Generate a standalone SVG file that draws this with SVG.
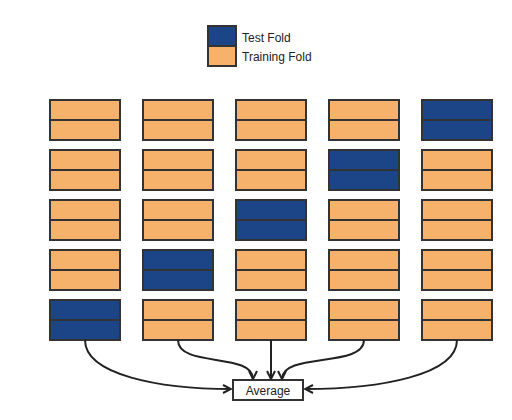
<svg xmlns="http://www.w3.org/2000/svg" width="512" height="420" viewBox="0 0 512 420">
<style>
.tr{fill:#f6b26b;stroke:#333;stroke-width:2}
.te{fill:#1c4587;stroke:#333;stroke-width:2}
.lbl{font-family:"Liberation Sans",Arial,sans-serif;font-size:12px;fill:#222}
.c{fill:none;stroke:#222;stroke-width:2}
</style>
<defs>
<marker id="ah" viewBox="0 0 10 10" refX="9" refY="5" markerWidth="10" markerHeight="10" markerUnits="userSpaceOnUse" orient="auto">
<path d="M1,1 L9,5 L1,9" fill="none" stroke="#222" stroke-width="2"/>
</marker>
<g id="trainFold"><rect class="tr" x="0" y="0" width="70" height="20"/><rect class="tr" x="0" y="20" width="70" height="20"/></g>
<g id="testFold"><rect class="te" x="0" y="0" width="70" height="20"/><rect class="te" x="0" y="20" width="70" height="20"/></g>
</defs>
<rect width="512" height="420" fill="#fff"/>
<g id="legend">
<rect class="te" x="208" y="26" width="28" height="20"/>
<rect class="tr" x="208" y="46" width="28" height="20"/>
<text class="lbl" x="242" y="42">Test Fold</text>
<text class="lbl" x="242" y="61">Training Fold</text>
</g>
<g id="row1">
<use href="#trainFold" x="50" y="100"/><use href="#trainFold" x="143" y="100"/><use href="#trainFold" x="236" y="100"/><use href="#trainFold" x="329" y="100"/><use href="#testFold" x="422" y="100"/>
</g>
<g id="row2">
<use href="#trainFold" x="50" y="150"/><use href="#trainFold" x="143" y="150"/><use href="#trainFold" x="236" y="150"/><use href="#testFold" x="329" y="150"/><use href="#trainFold" x="422" y="150"/>
</g>
<g id="row3">
<use href="#trainFold" x="50" y="200"/><use href="#trainFold" x="143" y="200"/><use href="#testFold" x="236" y="200"/><use href="#trainFold" x="329" y="200"/><use href="#trainFold" x="422" y="200"/>
</g>
<g id="row4">
<use href="#trainFold" x="50" y="250"/><use href="#testFold" x="143" y="250"/><use href="#trainFold" x="236" y="250"/><use href="#trainFold" x="329" y="250"/><use href="#trainFold" x="422" y="250"/>
</g>
<g id="row5">
<use href="#testFold" x="50" y="300"/><use href="#trainFold" x="143" y="300"/><use href="#trainFold" x="236" y="300"/><use href="#trainFold" x="329" y="300"/><use href="#trainFold" x="422" y="300"/>
</g>
<g id="average">
<rect x="233" y="380" width="70" height="20" fill="#fff" stroke="#333" stroke-width="2"/>
<text class="lbl" x="268" y="394.5" text-anchor="middle">Average</text>
</g>
<g id="connectors">
<path class="c" d="M85,340 C85,375 160,389 231,389" marker-end="url(#ah)"/>
<path class="c" d="M178,340 C178,368 253,352 253,379" marker-end="url(#ah)"/>
<path class="c" d="M271,340 L271,379" stroke="#000" marker-end="url(#ah)"/>
<path class="c" d="M364,340 C364,368 282,352 282,379" marker-end="url(#ah)"/>
<path class="c" d="M457,340 C457,375 380,389 305,389" marker-end="url(#ah)"/>
</g>
</svg>
